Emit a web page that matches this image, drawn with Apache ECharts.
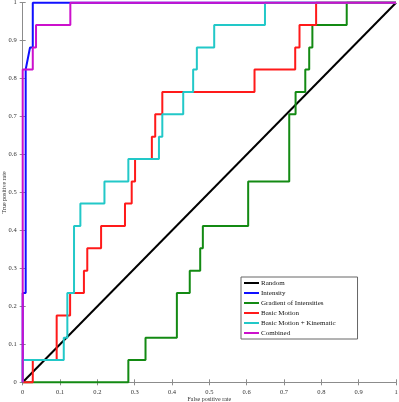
<!DOCTYPE html>
<html>
<head>
<meta charset="utf-8">
<script src="https://cdn.jsdelivr.net/npm/echarts@6/dist/echarts.min.js"></script>
<style>
  html, body { margin: 0; padding: 0; background: #fff; }
  #chart { width: 399px; height: 402px; }
</style>
</head>
<body>
<div id="chart"></div>
<script>
// ROC curves, vertices (17 positives -> tpr steps of 1/17)
const ticks = [0, 0.1, 0.2, 0.3, 0.4, 0.5, 0.6, 0.7, 0.8, 0.9, 1];

const randomFpr = [0, 1];
const randomTpr = [0, 1];

const intensityFpr = [0, 0, 0.008, 0.008, 0.0196, 0.027, 0.027, 1];
const intensityTpr = [0, 0.235, 0.235, 0.824, 0.882, 0.882, 1, 1];

const gradientFpr = [0, 0.283, 0.283, 0.329, 0.329, 0.413, 0.413, 0.4475, 0.4475, 0.4755, 0.4755,
  0.4826, 0.4826, 0.604, 0.604, 0.714, 0.714, 0.731, 0.731, 0.757, 0.757, 0.7675, 0.7675,
  0.776, 0.776, 0.868, 0.868, 1];
const gradientTpr = [0, 0, 0.0588, 0.0588, 0.1176, 0.1176, 0.235, 0.235, 0.294, 0.294, 0.353,
  0.353, 0.412, 0.412, 0.529, 0.529, 0.706, 0.706, 0.765, 0.765, 0.824, 0.824, 0.882,
  0.882, 0.941, 0.941, 1, 1];

const motionFpr = [0, 0.027, 0.027, 0.091, 0.091, 0.127, 0.127, 0.164, 0.164, 0.173, 0.173,
  0.21, 0.21, 0.274, 0.274, 0.292, 0.292, 0.301, 0.301, 0.346, 0.346, 0.355, 0.355,
  0.374, 0.374, 0.621, 0.621, 0.73, 0.73, 0.7415, 0.7415, 0.786, 0.786, 1];
const motionTpr = [0, 0, 0.0588, 0.0588, 0.176, 0.176, 0.235, 0.235, 0.294, 0.294, 0.353,
  0.353, 0.412, 0.412, 0.471, 0.471, 0.529, 0.529, 0.588, 0.588, 0.647, 0.647, 0.706,
  0.706, 0.765, 0.765, 0.824, 0.824, 0.882, 0.882, 0.941, 0.941, 1, 1];

const kinematicFpr = [0, 0, 0.11, 0.11, 0.1196, 0.1196, 0.1375, 0.1375, 0.1545, 0.1545, 0.219,
  0.219, 0.283, 0.283, 0.365, 0.365, 0.374, 0.374, 0.43, 0.43, 0.4566, 0.4566, 0.4665,
  0.4665, 0.513, 0.513, 0.649, 0.649, 1];
const kinematicTpr = [0, 0.0588, 0.0588, 0.1176, 0.1176, 0.235, 0.235, 0.412, 0.412, 0.471, 0.471,
  0.529, 0.529, 0.588, 0.588, 0.647, 0.647, 0.706, 0.706, 0.765, 0.765, 0.824, 0.824,
  0.882, 0.882, 0.941, 0.941, 1, 1];

const combinedFpr = [0, 0, 0.027, 0.027, 0.0357, 0.0357, 0.1276, 0.1276, 1];
const combinedTpr = [0, 0.824, 0.824, 0.882, 0.882, 0.941, 0.941, 1, 1];

const seriesNames = ['Random', 'Intensity', 'Gradient of Intensities', 'Basic Motion',
  'Basic Motion + Kinematic', 'Combined'];
const seriesColors = ['#000000', '#1010ff', '#138a13', '#ff1a1a', '#22c8c8', '#cc10cc'];
const seriesFpr = [randomFpr, intensityFpr, gradientFpr, motionFpr, kinematicFpr, combinedFpr];
const seriesTpr = [randomTpr, intensityTpr, gradientTpr, motionTpr, kinematicTpr, combinedTpr];

const font = 'Liberation Serif';
const axisGrey = '#8c8c8c';

const chart = echarts.init(document.getElementById('chart'));

const baseAxis = {
  type: 'value',
  min: 0,
  max: 1,
  interval: 0.1,
  axisLine: { show: true, lineStyle: { color: axisGrey, width: 1 } },
  axisTick: { show: true, inside: true, length: 3, lineStyle: { color: axisGrey } },
  splitLine: { show: false },
};

const tickLabel = {
  fontFamily: font,
  fontSize: 6.5,
  color: '#333',
  formatter: v => (ticks.includes(+v.toFixed(1)) ? String(+v.toFixed(1)) : ''),
};

chart.setOption({
  animation: false,
  grid: { left: 22.7, right: 3, top: 2.7, bottom: 19.7, containLabel: false, outerBoundsMode: 'none' },
  legend: {
    data: seriesNames,
    orient: 'vertical',
    left: 241,
    top: 277,
    padding: [2, 22, 2, 3],
    itemGap: 2,
    itemWidth: 15,
    itemHeight: 2,
    icon: 'rect',
    backgroundColor: '#fff',
    borderColor: '#666',
    borderWidth: 1,
    borderRadius: 0,
    textStyle: { fontFamily: font, fontSize: 7, color: '#111', lineHeight: 8, padding: [0, 0, 0, -3] },
  },
  xAxis: [
    Object.assign({}, baseAxis, {
      position: 'bottom',
      name: 'False positive rate',
      nameLocation: 'middle',
      nameGap: 14,
      nameMoveOverlap: false,
      nameTextStyle: { fontFamily: font, fontSize: 6, color: '#333' },
      axisLabel: Object.assign({ margin: 6 }, tickLabel),
    }),
    Object.assign({}, baseAxis, { position: 'top', axisLabel: { show: false } }),
  ],
  yAxis: [
    Object.assign({}, baseAxis, {
      position: 'left',
      name: 'True positive rate',
      nameLocation: 'middle',
      nameGap: 15,
      nameMoveOverlap: false,
      nameTextStyle: { fontFamily: font, fontSize: 6, color: '#333' },
      axisLabel: Object.assign({ margin: 6 }, tickLabel),
    }),
    Object.assign({}, baseAxis, { position: 'right', axisLabel: { show: false } }),
  ],
  series: seriesNames.map((name, i) => ({
    name: name,
    type: 'line',
    color: seriesColors[i],
    data: seriesFpr[i].map((x, j) => [x, seriesTpr[i][j]]),
    showSymbol: false,
    symbol: 'none',
    clip: false,
    lineStyle: { width: 2, color: seriesColors[i] },
    z: 2 + i,
  })),
});
</script>
</body>
</html>
